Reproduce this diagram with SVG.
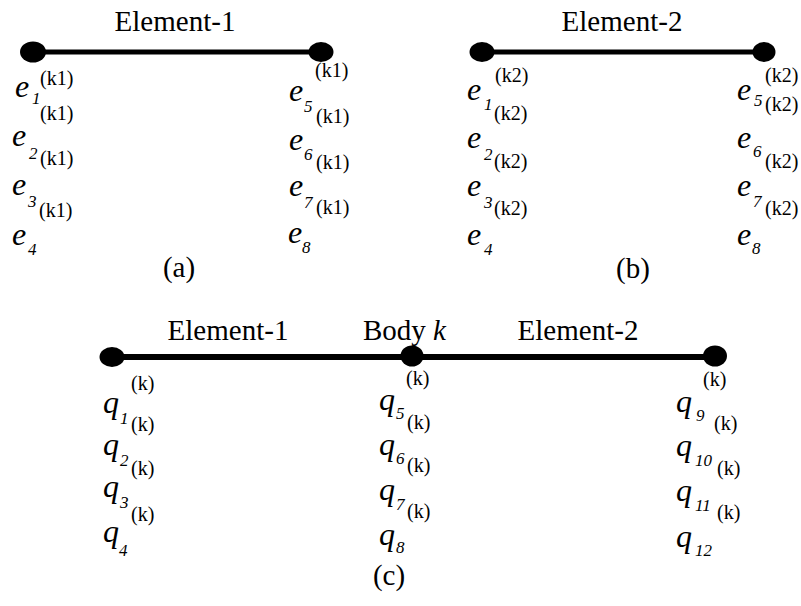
<svg xmlns="http://www.w3.org/2000/svg" width="801" height="606" viewBox="0 0 801 606">
<style>
text{font-family:"Liberation Serif","Times New Roman","DejaVu Serif",serif;fill:#000}
.t{font-size:29px}
.v{font-size:32px;font-style:italic}
.s{font-size:17px;font-style:italic}
.k{font-size:20px}
.m{text-anchor:middle}
.ln{stroke:#000;stroke-width:5;fill:none}
.dot{fill:#000}
</style>
<rect width="801" height="606" fill="#fff"/>
<g id="connectors">
<line class="ln" x1="33" y1="52" x2="321" y2="52"/>
<line class="ln" x1="482" y1="52" x2="764" y2="52"/>
<line class="ln" x1="112" y1="357" x2="715" y2="357" style="stroke-width:6"/>
</g>
<g id="node-a-left"><ellipse class="dot" cx="33" cy="52" rx="13" ry="10.5"/></g>
<g id="node-a-right"><ellipse class="dot" cx="321" cy="52" rx="12.5" ry="10"/></g>
<g id="node-b-left"><ellipse class="dot" cx="482" cy="52" rx="12.5" ry="10"/></g>
<g id="node-b-right"><ellipse class="dot" cx="764" cy="52" rx="11.5" ry="10"/></g>
<g id="node-c-left"><ellipse class="dot" cx="112" cy="357" rx="12.5" ry="10"/></g>
<g id="node-c-mid"><ellipse class="dot" cx="412" cy="356" rx="11.5" ry="10.5"/></g>
<g id="node-c-right"><ellipse class="dot" cx="715" cy="356" rx="12" ry="10.5"/></g>

<g id="labels-a">
<text class="t m" x="175" y="31">Element-1</text>
<text class="k" x="40" y="85">(k1)</text>
<text class="v" x="15" y="97">e</text><text class="s" x="32" y="104">1</text>
<text class="k" x="40" y="120">(k1)</text>
<text class="v" x="12" y="146">e</text><text class="s" x="29" y="159">2</text>
<text class="k" x="40" y="165">(k1)</text>
<text class="v" x="12" y="195">e</text><text class="s" x="28" y="207">3</text>
<text class="k" x="39" y="217">(k1)</text>
<text class="v" x="12" y="245">e</text><text class="s" x="28" y="255">4</text>
<text class="k" x="315" y="77">(k1)</text>
<text class="v" x="289" y="101">e</text><text class="s" x="304" y="112">5</text>
<text class="k" x="316" y="123">(k1)</text>
<text class="v" x="289" y="150">e</text><text class="s" x="304" y="160">6</text>
<text class="k" x="316" y="169">(k1)</text>
<text class="v" x="289" y="196">e</text><text class="s" x="304" y="208">7</text>
<text class="k" x="316" y="214">(k1)</text>
<text class="v" x="288" y="243">e</text><text class="s" x="302" y="253">8</text>
<text class="t m" x="179" y="277">(a)</text>
</g>

<g id="labels-b">
<text class="t m" x="622" y="31">Element-2</text>
<text class="k" x="495" y="82">(k2)</text>
<text class="v" x="467" y="100">e</text><text class="s" x="484" y="110">1</text>
<text class="k" x="494" y="120">(k2)</text>
<text class="v" x="467" y="148">e</text><text class="s" x="484" y="160">2</text>
<text class="k" x="494" y="168">(k2)</text>
<text class="v" x="467" y="196">e</text><text class="s" x="484" y="208">3</text>
<text class="k" x="494" y="215">(k2)</text>
<text class="v" x="467" y="245">e</text><text class="s" x="484" y="255">4</text>
<text class="k" x="765" y="82">(k2)</text>
<text class="v" x="737" y="100">e</text><text class="s" x="754" y="106">5</text>
<text class="k" x="765" y="111">(k2)</text>
<text class="v" x="737" y="148">e</text><text class="s" x="753" y="157">6</text>
<text class="k" x="765" y="168">(k2)</text>
<text class="v" x="737" y="196">e</text><text class="s" x="753" y="207">7</text>
<text class="k" x="765" y="215">(k2)</text>
<text class="v" x="737" y="245">e</text><text class="s" x="752" y="254">8</text>
<text class="t m" x="633" y="278">(b)</text>
</g>

<g id="labels-c">
<text class="t m" x="228" y="340">Element-1</text>
<text class="t" x="363" y="340">Body <tspan font-style="italic">k</tspan></text>
<text class="t m" x="578" y="340">Element-2</text>
<text class="k" x="131" y="390">(k)</text>
<text class="v" x="103" y="413">q</text><text class="s" x="120" y="424">1</text>
<text class="k" x="131" y="431">(k)</text>
<text class="v" x="103" y="455">q</text><text class="s" x="120" y="466">2</text>
<text class="k" x="131" y="475">(k)</text>
<text class="v" x="103" y="497">q</text><text class="s" x="120" y="508">3</text>
<text class="k" x="131" y="521">(k)</text>
<text class="v" x="103" y="542">q</text><text class="s" x="119" y="556">4</text>
<text class="k" x="406" y="385">(k)</text>
<text class="v" x="379" y="410">q</text><text class="s" x="396" y="419">5</text>
<text class="k" x="407" y="429">(k)</text>
<text class="v" x="379" y="455">q</text><text class="s" x="396" y="464">6</text>
<text class="k" x="407" y="472">(k)</text>
<text class="v" x="379" y="500">q</text><text class="s" x="396" y="510">7</text>
<text class="k" x="407" y="518">(k)</text>
<text class="v" x="379" y="545">q</text><text class="s" x="396" y="553">8</text>
<text class="k" x="703" y="386">(k)</text>
<text class="v" x="676" y="412">q</text><text class="s" x="696" y="421">9</text>
<text class="k" x="714" y="430">(k)</text>
<text class="v" x="676" y="456">q</text><text class="s" x="695" y="466">10</text>
<text class="k" x="717" y="475">(k)</text>
<text class="v" x="676" y="501">q</text><text class="s" x="695" y="511">11</text>
<text class="k" x="717" y="519">(k)</text>
<text class="v" x="676" y="547">q</text><text class="s" x="695" y="556">12</text>
<text class="t m" x="389" y="585">(c)</text>
</g>
</svg>
